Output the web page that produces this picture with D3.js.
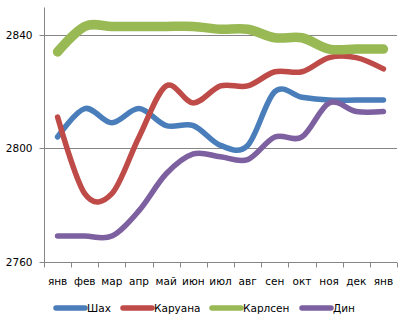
<!DOCTYPE html>
<html><head><meta charset="utf-8">
<script src="https://cdn.jsdelivr.net/npm/d3@7"></script>
<style>body{margin:0;background:#fff}svg{display:block}</style>
</head><body>
<svg id="c" width="407" height="325"></svg>
<script>
const months = ["янв","фев","мар","апр","май","июн","июл","авг","сен","окт","ноя","дек","янв"];
const shakh   = [2804,2814,2809,2814,2808,2808,2801,2801,2820,2818,2817,2817,2817];
const caruana = [2811,2784,2784,2804,2822,2816,2822,2822,2827,2827,2832,2832,2828];
const carlsen = [2834,2843,2843,2843,2843,2843,2842,2842,2839,2839,2835,2835,2835];
const ding    = [2769,2769,2769,2778,2791,2798,2797,2796,2804,2804,2816,2813,2813];
const seriesNames = ["Шах","Каруана","Карлсен","Дин"];
const yTicks = [2760,2800,2840];

const series = [
  {name: seriesNames[0], values: shakh,   color: "#4A7EBB", w: 5.5},
  {name: seriesNames[1], values: caruana, color: "#BE4B48", w: 5.5},
  {name: seriesNames[2], values: carlsen, color: "#98B954", w: 9.5},
  {name: seriesNames[3], values: ding,    color: "#7D60A0", w: 5.5}
];

const svg = d3.select("#c");
const font = "'DejaVu Sans', sans-serif";
const pL = 44, pR = 397, pT = 6.6, pB = 261.6;
const idx = months.map((m,i)=>i);
const x = d3.scaleBand().domain(idx).range([pL, pR]);
const y = d3.scaleLinear().domain([2760, 2850]).range([pB, pT]);
const axisColor = "#868686";

// gridlines
svg.append("g").selectAll("line").data(yTicks.filter(t=>t>2760)).join("line")
  .attr("x1", pL).attr("x2", pR)
  .attr("y1", d=>Math.round(y(d))+0.5).attr("y2", d=>Math.round(y(d))+0.5)
  .attr("stroke", axisColor).attr("stroke-width", 1);

// y axis
const ya = svg.append("g").attr("transform", `translate(${pL+0.5},0)`)
  .call(d3.axisLeft(y).tickValues(yTicks).tickSize(5).tickPadding(7).tickFormat(d3.format("d")));
ya.select(".domain").attr("stroke", axisColor).attr("d", `M0,${Math.round(pT)+0.5}V${Math.round(pB)+0.5}`);
ya.selectAll(".tick line").attr("stroke", axisColor);
ya.selectAll(".tick").attr("transform", d=>`translate(0,${Math.round(y(d))+0.5})`);
ya.selectAll("text").attr("font-family", font).attr("font-size", "10.5px").attr("fill", "#000");

// x axis
const xa = svg.append("g").attr("transform", `translate(0,${Math.round(pB)+0.5})`);
xa.append("line").attr("x1", pL).attr("x2", pR).attr("stroke", axisColor);
const bounds = idx.map(i=>x(i)).concat([pR]);
xa.selectAll("line.t").data(bounds).join("line").attr("class","t")
  .attr("x1", d=>Math.round(d)+0.5).attr("x2", d=>Math.round(d)+0.5)
  .attr("y1", 0).attr("y2", 5).attr("stroke", axisColor);
xa.selectAll("text").data(idx).join("text")
  .attr("x", i=>x(i)+x.bandwidth()/2).attr("y", 22)
  .attr("text-anchor","middle").attr("font-family", font).attr("font-size","10.5px")
  .text(i=>months[i]);

// lines
const line = d3.line().x((d,i)=>x(i)+x.bandwidth()/2).y(d=>y(d)).curve(d3.curveCardinal.tension(0));
svg.append("g").selectAll("path").data(series).join("path")
  .attr("d", s=>line(s.values)).attr("fill","none")
  .attr("stroke", s=>s.color).attr("stroke-width", s=>s.w)
  .attr("stroke-linecap","round").attr("stroke-linejoin","round");

// legend
const legX = [56, 123, 212, 302];
const lg = svg.append("g").selectAll("g").data(series).join("g")
  .attr("transform", (s,i)=>`translate(${legX[i]},308)`);
lg.append("line").attr("x1",0).attr("x2",29).attr("stroke", s=>s.color)
  .attr("stroke-width",5.5).attr("stroke-linecap","round");
lg.append("text").attr("x",31).attr("y",4).attr("font-family",font).attr("font-size","10.5px")
  .text(s=>s.name);
</script>
</body></html>
